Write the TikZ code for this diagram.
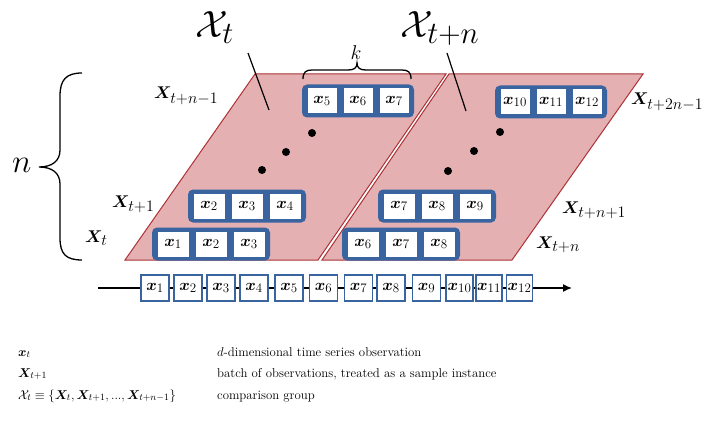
\RequirePackage{fix-cm}
\documentclass[tikz,border=0pt]{standalone}
\usepackage{amsmath,bm}
\usetikzlibrary{arrows.meta}
\DeclareMathSizes{16}{16}{13}{10}
\DeclareMathSizes{17}{17}{16}{12}
\DeclareMathSizes{38}{38}{31}{23}
\DeclareMathSizes{20}{20}{16}{12}
\DeclareMathSizes{33}{33}{26}{20}
\DeclareMathSizes{12.8}{12.8}{9.6}{7}
\definecolor{pinkf}{RGB}{228,176,178}
\definecolor{redb}{RGB}{172,50,54}
\definecolor{blueb}{RGB}{58,100,160}
\newcommand{\grpgeom}[3]{\def\gw{#1}\def\gp{#2}\def\cw{#3}}
\newcommand{\grp}[6]{%
  \node[grpbox,minimum width=\gw pt] (#1) at (#2,#3) {};
  \node[cell,minimum width=\cw pt,xshift=-\gp pt] (#1a) at (#1) {$\bm{x}_{#4}$};
  \node[cell,minimum width=\cw pt] (#1b) at (#1) {$\bm{x}_{#5}$};
  \node[cell,minimum width=\cw pt,xshift=\gp pt] (#1c) at (#1) {$\bm{x}_{#6}$};
}
\begin{document}
\begin{tikzpicture}[x=1pt,y=-1pt,
  para/.style={fill=pinkf,draw=redb,line width=1pt},
  grpbox/.style={fill=blueb,rounded corners=5pt,minimum height=33pt,inner sep=0pt},
  cell/.style={fill=white,minimum height=25pt,inner sep=0pt,font=\fontsize{16}{18}\selectfont},
  tsbox/.style={fill=white,draw=blueb,line width=1.6pt,minimum height=26pt,inner sep=0pt,font=\fontsize{16}{18}\selectfont},
  lbl/.style={anchor=base west,inner sep=0pt,font=\fontsize{17}{20}\selectfont},
  bigl/.style={anchor=base west,inner sep=0pt,font=\fontsize{38}{42}\selectfont},
  dotm/.style={circle,fill=black,minimum size=8pt,inner sep=0pt},
  ptr/.style={line width=1.2pt},
  brc/.style={line width=1.3pt},
  legtxt/.style={anchor=base west,inner sep=0pt,font=\fontsize{12.8}{15}\selectfont}]
\useasboundingbox (0,0) rectangle (709,425);

% parallelograms
\draw[para] (125,260) -- (318,260) -- (446,74) -- (255,74) -- cycle;
\draw[para] (322,260) -- (512,260) -- (643,74) -- (449,74) -- cycle;

% groups
\grpgeom{118}{38}{31}
\grp{g1}{211}{244}{1}{2}{3}
\grp{g2}{247}{206}{2}{3}{4}
\grp{g4}{401}{244}{6}{7}{8}
\grp{g5}{437}{206}{7}{8}{9}
\grpgeom{112}{36}{29}
\grp{g3}{358}{101}{5}{6}{7}
\grp{g6}{551}{102}{10}{11}{12}

% dots
\node[dotm] (d1) at (262,170) {};
\node[dotm] (d2) at (286,152) {};
\node[dotm] (d3) at (312,133) {};
\node[dotm] (d4) at (448,171) {};
\node[dotm] (d5) at (474,151) {};
\node[dotm] (d6) at (500,132) {};

% labels of batches
\node[lbl] (L1) at (85,242) {$\bm{X}_t$};
\node[lbl] (L2) at (112,207) {$\bm{X}_{t+1}$};
\node[lbl] (L3) at (154,99) {$\bm{X}_{t+n-1}$};
\node[lbl] (L4) at (536,248) {$\bm{X}_{t+n}$};
\node[lbl] (L5) at (562,213) {$\bm{X}_{t+n+1}$};
\node[lbl] (L6) at (631,105) {$\bm{X}_{t+2n-1}$};

% big labels and pointers
\node[bigl] (S1) at (195,38) {$\mathcal{X}_t$};
\node[bigl] (S2) at (400,38) {$\mathcal{X}_{t+n}$};
\coordinate (q1) at (248,53);
\coordinate (r1) at (269,110);
\coordinate (q2) at (447,53);
\coordinate (r2) at (466,111);
\draw[ptr] (q1) -- (r1);
\draw[ptr] (q2) -- (r2);

% k brace
\draw[brc] (303,79) .. controls (303,72) and (306,70) .. (312,70) -- (348,70)
  .. controls (354,70) and (357,68) .. (357,63)
  .. controls (357,68) and (360,70) .. (366,70) -- (402,70)
  .. controls (408,70) and (411,72) .. (411,79);
\node[anchor=base,inner sep=0pt,font=\fontsize{20}{22}\selectfont] (K) at (356,60) {$k$};

% n brace
\draw[brc] (82,73) .. controls (66,73) and (60,80) .. (60,96) -- (60,150)
  .. controls (60,161) and (52,167) .. (39,167)
  .. controls (52,167) and (60,173) .. (60,184) -- (60,238)
  .. controls (60,254) and (66,260) .. (82,260);
\node[anchor=base west,inner sep=0pt,font=\fontsize{33}{36}\selectfont] (N) at (12,172) {$n$};

% time series
\coordinate (ts0) at (98,288);
\coordinate (ts1) at (572,288);
\draw[line width=1.5pt,-{Latex[length=9pt,width=8pt]}] (ts0) -- (ts1);
\foreach \i/\xx/\ww in {1/155/28,2/188/28,3/221/28,4/254/28,5/289/28,6/323.5/28,7/358.5/28,8/391/28,9/426.5/28,10/459.5/27,11/489/26,12/519.5/26}{
  \node[tsbox,minimum width=\ww pt] (t\i) at (\xx,288) {$\bm{x}_{\i}$};
}

% legend
\node[legtxt] (a1) at (18,356) {$\bm{x}_t$};
\node[legtxt] (b1) at (217,356) {$d$-dimensional time series observation};
\node[legtxt] (a2) at (18,377) {$\bm{X}_{t+1}$};
\node[legtxt] (b2) at (217,377) {batch of observations, treated as a sample instance};
\node[legtxt] (a3) at (18,399) {$\mathcal{X}_t\equiv\{\bm{X}_t,\bm{X}_{t+1},...,\bm{X}_{t+n-1}\}$};
\node[legtxt] (b3) at (217,399) {comparison group};
\end{tikzpicture}
\end{document}
